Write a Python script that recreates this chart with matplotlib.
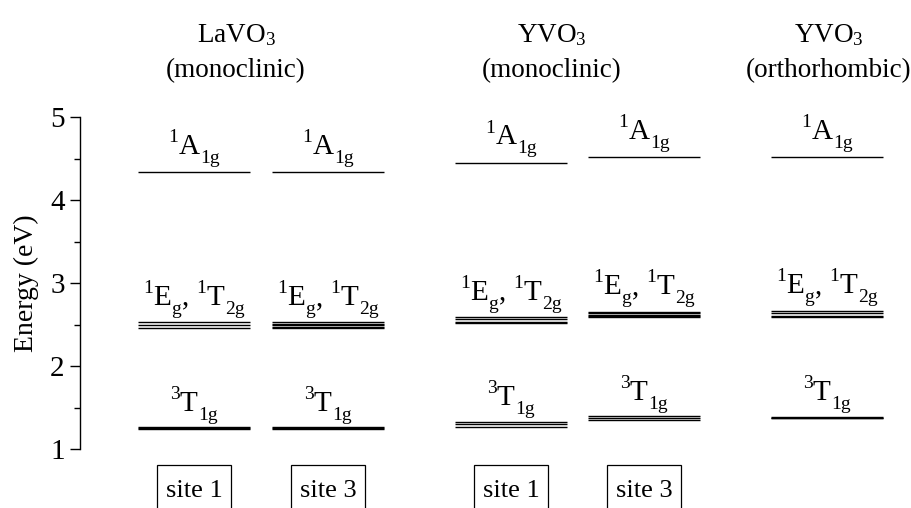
import matplotlib
matplotlib.use("Agg")
import matplotlib.pyplot as plt
from matplotlib.ticker import MultipleLocator
from matplotlib.patches import Rectangle
from matplotlib.transforms import offset_copy

plt.rcParams['font.family'] = ['Liberation Serif', 'DejaVu Serif']
plt.rcParams['mathtext.fontset'] = 'custom'
plt.rcParams['mathtext.rm'] = 'Liberation Serif'
plt.rcParams['mathtext.default'] = 'regular'

# ---- data ----
site_labels = ["site 1", "site 3", "site 1", "site 3", ""]
a1g = [4.34, 4.34, 4.45, 4.52, 4.52]
eg_t2g = [
    [2.46, 2.494, 2.527],
    [2.46, 2.475, 2.49, 2.505, 2.525],
    [2.52, 2.53, 2.566, 2.59],
    [2.59, 2.605, 2.62, 2.635, 2.655],
    [2.587, 2.60, 2.635, 2.667],
]
t1g = [
    [1.242, 1.252, 1.262],
    [1.242, 1.252, 1.262],
    [1.27, 1.30, 1.33],
    [1.345, 1.37, 1.395],
    [1.368, 1.378, 1.388],
]
titles = ["LaVO$_3$\n(monoclinic)", "YVO$_3$\n(monoclinic)", "YVO$_3$\n(orthorhombic)"]

lbl_a1g = [("1", "sup"), ("A", "main"), ("1g", "sub")]
lbl_eg = [("1", "sup"), ("E", "main"), ("g", "sub"), (",", "main"), (" ", "gap"),
          ("1", "sup"), ("T", "main"), ("2g", "sub")]
lbl_t1g = [("3", "sup"), ("T", "main"), ("1g", "sub")]

# ---- layout (positions only) ----
centers = [194, 328, 511, 644, 827]
half = 56
title_x = [236, 552, 829]

fig = plt.figure(figsize=(9.12, 5.08), dpi=100)
ax = fig.add_axes([80/912, 1-449/508, (900-80)/912, (449-117)/508])
ax.set_xlim(80, 900)
ax.set_ylim(1, 5)
renderer = fig.canvas.get_renderer()

FS_MAIN, FS_SCR = 21, 14
SUP_RISE, SUB_DROP = 8.5, 6.5  # points


def draw_label(xc, yb, parts):
    items = []
    total = 0.0
    for s, kind in parts:
        if kind == "gap":
            items.append((None, kind, 7.0))
            total += 7.0
            continue
        fs = FS_MAIN if kind == "main" else FS_SCR
        t = ax.text(xc, yb, s, fontsize=fs, ha='left', va='baseline')
        w = t.get_window_extent(renderer).width
        items.append((t, kind, w))
        total += w + 0.5
    pos = -total / 2.0
    for t, kind, w in items:
        if t is not None:
            dy = SUP_RISE if kind == "sup" else (-SUB_DROP if kind == "sub" else 0.0)
            t.set_transform(offset_copy(ax.transData, fig=fig, x=pos * 72 / fig.dpi,
                                        y=dy, units='points'))
            pos += w + 0.5
        else:
            pos += w


for s in ['top', 'right', 'bottom']:
    ax.spines[s].set_visible(False)
ax.spines['left'].set_linewidth(1.0)
ax.set_xticks([])
ax.yaxis.set_major_locator(MultipleLocator(1))
ax.yaxis.set_minor_locator(MultipleLocator(0.5))
ax.tick_params(axis='y', which='major', direction='out', length=7, width=1.0,
               labelsize=21, pad=4)
ax.tick_params(axis='y', which='minor', direction='out', length=4, width=1.0)
ax.set_ylabel("Energy (eV)", fontsize=20, labelpad=8)

lw = 1.0
for i, c in enumerate(centers):
    x0, x1 = c - half, c + half
    ax.hlines(a1g[i], x0, x1, color='black', lw=lw)
    for e in eg_t2g[i]:
        ax.hlines(e, x0, x1, color='black', lw=lw)
    for e in t1g[i]:
        ax.hlines(e, x0, x1, color='black', lw=lw)
    draw_label(c, a1g[i] + 0.22, lbl_a1g)
    draw_label(c, max(eg_t2g[i]) + 0.21, lbl_eg)
    draw_label(c, max(t1g[i]) + 0.2, lbl_t1g)
    if site_labels[i]:
        ax.add_patch(Rectangle((c - 37, 0.2), 74, 0.607, fc='white', ec='black',
                               lw=0.9, clip_on=False))
        ax.text(c, 0.42, site_labels[i], ha='center', va='baseline', fontsize=19,
                clip_on=False)

for tx, t in zip(title_x, titles):
    ax.text(tx, 5.41, t, ha='center', va='bottom', fontsize=19.5, linespacing=1.5,
            clip_on=False)

fig.savefig("out.png", dpi=100)
